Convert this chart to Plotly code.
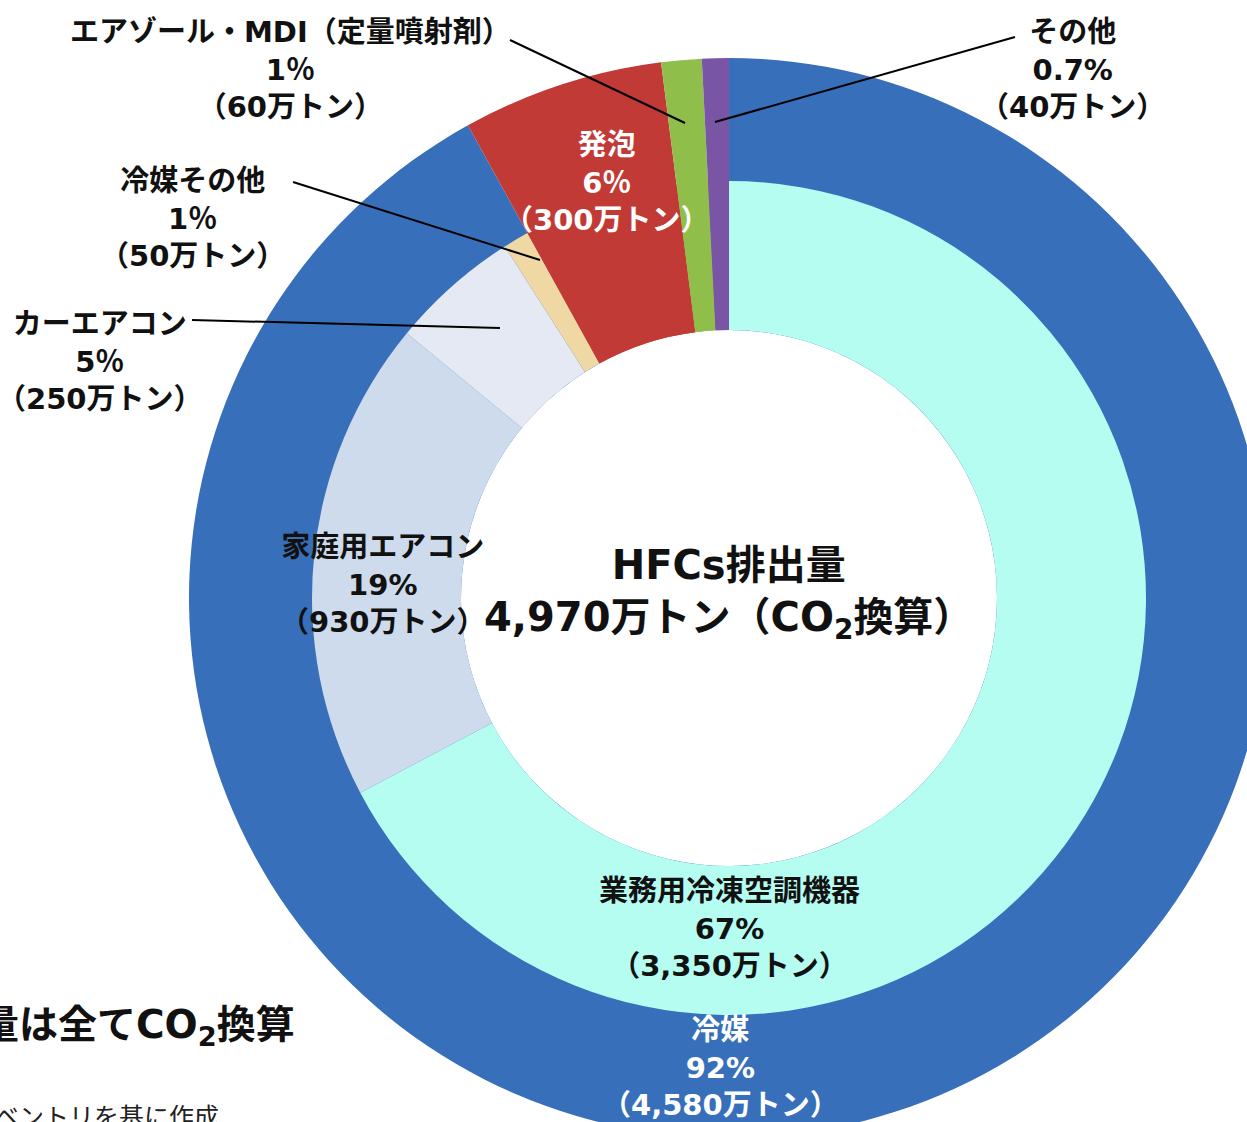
import plotly.graph_objects as go

# ---- data ------------------------------------------------------------
outer_labels = ["冷媒", "発泡", "エアゾール・MDI（定量噴射剤）", "その他"]
outer_values = [4580, 300, 60, 40]          # 万トン
outer_colors = ["#376fbb", "#c23a36", "#8fbf4a", "#7a55a6"]

inner_labels = ["業務用冷凍空調機器", "家庭用エアコン", "カーエアコン", "冷媒その他",
                "発泡", "エアゾール・MDI（定量噴射剤）", "その他"]
inner_values = [3350, 930, 250, 50, 300, 60, 40]
inner_colors = ["#b5fcf1", "#cedbec", "#e4e9f3", "#efd8a3",
                "#c23a36", "#8fbf4a", "#7a55a6"]

pct_text = {"冷媒": "92%", "発泡": "6％", "エアゾール・MDI（定量噴射剤）": "1％", "その他": "0.7%",
            "業務用冷凍空調機器": "67%", "家庭用エアコン": "19%", "カーエアコン": "5％", "冷媒その他": "1％"}
amount_text = {"冷媒": "（4,580万トン）", "発泡": "（300万トン）", "エアゾール・MDI（定量噴射剤）": "（60万トン）",
               "その他": "（40万トン）", "業務用冷凍空調機器": "（3,350万トン）", "家庭用エアコン": "（930万トン）",
               "カーエアコン": "（250万トン）", "冷媒その他": "（50万トン）"}

# ---- geometry (px) ------------------------------------------------------
# the figure is a bit bigger than the window so the ring gets cut at right / bottom
W, H = 1280, 1150
CX, CY = 729, 598
R_OUT, R_MID, R_HOLE = 540, 417, 268

FONT = "DejaVu Sans, Noto Sans CJK JP, sans-serif"


def px(x):
    return x / W


def py(y):
    return 1 - y / H


def dom(r):
    return dict(x=[px(CX - r), px(CX + r)], y=[py(CY + r), py(CY - r)])


fig = go.Figure()
# outer pie goes all the way down to the hole, inner ring is drawn on top of it
fig.add_trace(go.Pie(labels=outer_labels, values=outer_values, hole=R_HOLE / R_OUT,
                     domain=dom(R_OUT), sort=False, direction="clockwise", rotation=0,
                     marker=dict(colors=outer_colors, line=dict(width=0)),
                     textinfo="none", showlegend=False))
fig.add_trace(go.Pie(labels=inner_labels, values=inner_values, hole=R_HOLE / R_MID,
                     domain=dom(R_MID), sort=False, direction="clockwise", rotation=0,
                     marker=dict(colors=inner_colors, line=dict(width=0)),
                     textinfo="none", showlegend=False))


def label(name, x, y, color="#111111", size=29):
    txt = f"{name}<br>{pct_text[name]}<br>{amount_text[name]}"
    fig.add_annotation(x=px(x), y=py(y), xref="paper", yref="paper", text=txt, showarrow=False,
                       xanchor="center", yanchor="middle", align="center",
                       font=dict(family=FONT, size=size, color=color, weight="bold"))


label("エアゾール・MDI（定量噴射剤）", 290, 70)
label("その他", 1072, 70)
label("発泡", 607, 182, color="white")
label("冷媒その他", 192, 219)
label("カーエアコン", 100, 361)
label("家庭用エアコン", 383, 585)
label("業務用冷凍空調機器", 729, 928)
label("冷媒", 720, 1067, color="white")

fig.add_annotation(x=px(728), y=py(594), xref="paper", yref="paper", showarrow=False,
                   text="HFCs排出量<br>4,970万トン（CO<sub>2</sub>換算）",
                   xanchor="center", yanchor="middle", align="center",
                   font=dict(family=FONT, size=40, color="#111111", weight="bold"))

# cut-off slide notes at bottom left
fig.add_annotation(x=px(297), y=py(1027), xref="paper", yref="paper", showarrow=False,
                   text="量は全てCO<sub>2</sub>換算", xanchor="right", yanchor="middle",
                   font=dict(family=FONT, size=39, color="#111111", weight="bold"))
fig.add_annotation(x=px(221), y=py(1117), xref="paper", yref="paper", showarrow=False,
                   text="ベントリを基に作成", xanchor="right", yanchor="middle",
                   font=dict(family=FONT, size=25, color="#222222"))

# leader lines
for x0, y0, x1, y1 in [(510, 40, 685, 123), (1015, 37, 715, 122),
                       (293, 182, 540, 260), (192, 320, 500, 328)]:
    fig.add_shape(type="line", xref="paper", yref="paper", x0=px(x0), y0=py(y0),
                  x1=px(x1), y1=py(y1), line=dict(color="black", width=2))

fig.update_layout(width=W, height=H, margin=dict(l=0, r=0, t=0, b=0),
                  paper_bgcolor="white", plot_bgcolor="white")

clip = ("document.body.style.margin='0';document.body.style.overflow='hidden';"
        "var gd=document.getElementById('{plot_id}');"
        "gd.parentElement.style.width='1247px';gd.parentElement.style.height='1122px';"
        "gd.parentElement.style.overflow='hidden';")
fig.write_html("out.html", post_script=clip, config={"displayModeBar": False})
